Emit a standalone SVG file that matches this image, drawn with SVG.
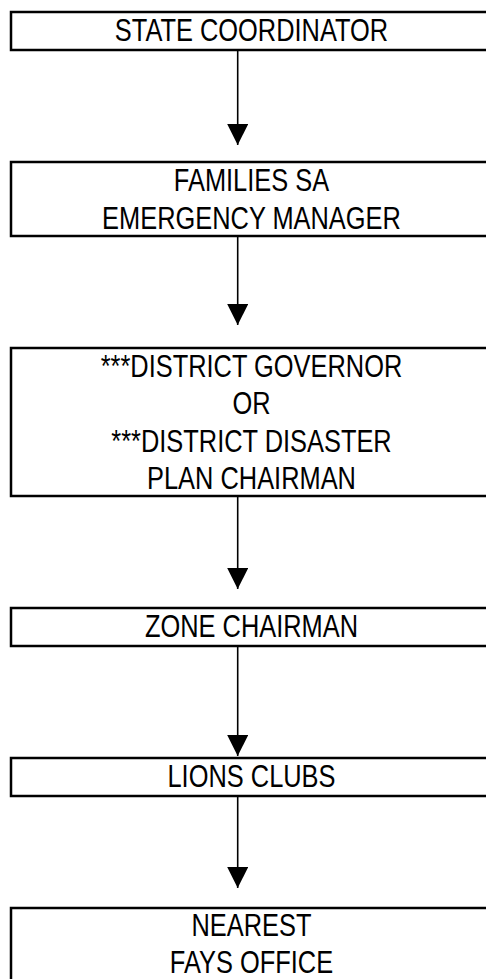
<svg xmlns="http://www.w3.org/2000/svg" width="486" height="979" viewBox="0 0 486 979">
  <style>
    .box { fill: #ffffff; stroke: #000000; stroke-width: 2.5; }
    .lbl { font-family: "Liberation Sans", Arial, sans-serif; font-size: 31px; fill: #000000; text-anchor: middle; }
    .link { stroke: #000000; stroke-width: 1.6; fill: none; }
  </style>
  <defs>
    <marker id="head" markerUnits="userSpaceOnUse" markerWidth="22" markerHeight="22" refX="21" refY="10.5" orient="auto">
      <path d="M0,0 L21,10.5 L0,21 z" fill="#000000"/>
    </marker>
  </defs>

  <!-- narrow lettering: Arial widths squeezed to 82% horizontally -->
  <g id="state-coordinator">
    <rect class="box" x="11" y="12" width="490" height="38"/>
    <text class="lbl" transform="scale(0.82,1)" x="306.7" y="41">STATE COORDINATOR</text>
  </g>

  <g id="families-sa">
    <rect class="box" x="11" y="162" width="490" height="74"/>
    <text class="lbl" transform="scale(0.82,1)" x="306.7" y="191">FAMILIES SA</text>
    <text class="lbl" transform="scale(0.82,1)" x="306.7" y="229">EMERGENCY MANAGER</text>
  </g>

  <g id="district">
    <rect class="box" x="11" y="348" width="490" height="148"/>
    <text class="lbl" transform="scale(0.82,1)" x="306.7" y="377">***DISTRICT GOVERNOR</text>
    <text class="lbl" transform="scale(0.82,1)" x="306.7" y="414.5">OR</text>
    <text class="lbl" transform="scale(0.82,1)" x="306.7" y="452">***DISTRICT DISASTER</text>
    <text class="lbl" transform="scale(0.82,1)" x="306.7" y="489.5">PLAN CHAIRMAN</text>
  </g>

  <g id="zone-chairman">
    <rect class="box" x="11" y="608" width="490" height="38"/>
    <text class="lbl" transform="scale(0.82,1)" x="306.7" y="637">ZONE CHAIRMAN</text>
  </g>

  <g id="lions-clubs">
    <rect class="box" x="11" y="758" width="490" height="38"/>
    <text class="lbl" transform="scale(0.82,1)" x="306.7" y="787">LIONS CLUBS</text>
  </g>

  <!-- last box runs past the bottom edge of the sheet -->
  <g id="fays-office">
    <rect class="box" x="11" y="908" width="490" height="110"/>
    <text class="lbl" transform="scale(0.82,1)" x="306.7" y="936">NEAREST</text>
    <text class="lbl" transform="scale(0.82,1)" x="306.7" y="973">FAYS OFFICE</text>
  </g>

  <g id="connectors">
    <line class="link" x1="237.7" y1="51" x2="237.7" y2="145" marker-end="url(#head)"/>
    <line class="link" x1="237.7" y1="237" x2="237.7" y2="325" marker-end="url(#head)"/>
    <line class="link" x1="237.7" y1="497" x2="237.7" y2="589" marker-end="url(#head)"/>
    <line class="link" x1="237.7" y1="647" x2="237.7" y2="756" marker-end="url(#head)"/>
    <line class="link" x1="237.7" y1="797" x2="237.7" y2="888" marker-end="url(#head)"/>
  </g>
</svg>
